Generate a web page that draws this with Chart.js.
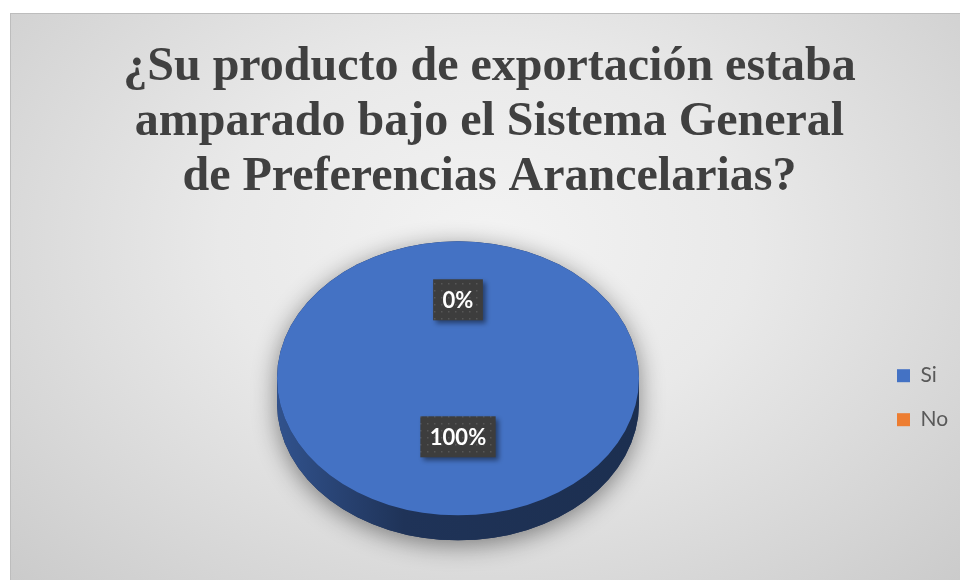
<!DOCTYPE html>
<html>
<head>
<meta charset="utf-8">
<script src="https://cdn.jsdelivr.net/npm/chart.js@4.4.1/dist/chart.umd.min.js"></script>
<style>
  html, body { margin:0; padding:0; background:#fff; }
  #frame {
    position:absolute; left:10px; top:13px; width:950px; height:567px;
    border-top:1px solid #bdbdbd; border-left:1px solid #bdbdbd;
    background: radial-gradient(ellipse 70% 85% at 50% 40%, #f3f3f3 0%, #e9e9e9 40%, #cbcbcb 100%);
  }
  canvas { display:block; }
</style>
</head>
<body>
<div id="frame"><canvas id="chart" width="950" height="567"></canvas></div>
<script>
/* ===== data ===== */
const TITLE_LINES = [
  "¿Su producto de exportación estaba",
  "amparado bajo el Sistema General",
  "de Preferencias Arancelarias?"
];
const CATEGORIES = ["Si", "No"];
const VALUES = [100, 0];
const COLORS = ["#4472c4", "#ed7d31"];

/* ===== 3d look ===== */
const TILT = 0.757;   // vertical squash of the top face
const DEPTH = 25;     // thickness of the pie

function shade(hex, f){
  const n = parseInt(hex.slice(1), 16);
  const r = Math.round(((n >> 16) & 255) * f), g = Math.round(((n >> 8) & 255) * f), b = Math.round((n & 255) * f);
  return `rgb(${r},${g},${b})`;
}

let dotPattern = null;
function labelPattern(ctx){
  if (dotPattern) return dotPattern;
  const c = document.createElement("canvas");
  c.width = 7; c.height = 7;
  const p = c.getContext("2d");
  p.fillStyle = "#3d3d3d"; p.fillRect(0, 0, 7, 7);
  p.fillStyle = "#575757"; p.fillRect(3, 3, 1.5, 1.5);
  dotPattern = ctx.createPattern(c, "repeat");
  return dotPattern;
}

const pie3d = {
  id: "pie3d",
  afterLayout(chart){
    // legend box is kept narrow for layout, but let its text draw past it
    const lg = chart.legend;
    if (lg) { lg.right = chart.width; lg.width = lg.right - lg.left; }
  },
  beforeDatasetsDraw(chart){
    const ctx = chart.ctx;
    const arcs = chart.getDatasetMeta(0).data;
    if (!arcs.length) return;
    const {x, y, outerRadius: r} = arcs[0].getProps(["x", "y", "outerRadius"], true);
    const ry = r * TILT;

    // soft shadow under the whole disc
    ctx.save();
    ctx.shadowColor = "rgba(0,0,0,0.45)";
    ctx.shadowBlur = 24;
    ctx.shadowOffsetY = 5;
    ctx.fillStyle = "#1c2f56";
    ctx.beginPath();
    ctx.ellipse(x, y + DEPTH, r, ry, 0, 0, Math.PI);
    ctx.ellipse(x, y, r, ry, 0, Math.PI, 2 * Math.PI);
    ctx.closePath();
    ctx.fill();
    ctx.restore();

    // side walls (front half only)
    arcs.forEach((arc, i) => {
      const {startAngle: a, endAngle: b} = arc.getProps(["startAngle", "endAngle"], true);
      if (b - a <= 0) return;
      const col = COLORS[i];
      const g = ctx.createLinearGradient(x - r, 0, x + r, 0);
      g.addColorStop(0, shade(col, 0.72));
      g.addColorStop(0.35, shade(col, 0.45));
      g.addColorStop(1, shade(col, 0.41));
      for (let k = -1; k <= 1; k++){
        const lo = Math.max(a, 2 * Math.PI * k), hi = Math.min(b, 2 * Math.PI * k + Math.PI);
        if (hi <= lo) continue;
        ctx.beginPath();
        ctx.ellipse(x, y, r, ry, 0, lo, hi);
        ctx.ellipse(x, y + DEPTH, r, ry, 0, hi, lo, true);
        ctx.closePath();
        ctx.fillStyle = g;
        ctx.fill();
      }
    });

    // squash the top face
    ctx.save();
    ctx.translate(x, y); ctx.scale(1, TILT); ctx.translate(-x, -y);
  },
  afterDatasetsDraw(chart){
    const ctx = chart.ctx;
    ctx.restore();
    const meta = chart.getDatasetMeta(0);
    const total = VALUES.reduce((s, v) => s + v, 0);
    ctx.save();
    ctx.font = "bold 22px Lato";
    ctx.textAlign = "center";
    ctx.textBaseline = "middle";
    meta.data.forEach((arc, i) => {
      const p = arc.getProps(["x", "y", "startAngle", "endAngle", "outerRadius"], true);
      const mid = (p.startAngle + p.endAngle) / 2;
      const lx = p.x + Math.cos(mid) * p.outerRadius * 0.5;
      const ly = p.y + Math.sin(mid) * p.outerRadius * 0.5 * TILT - 10;
      const txt = Math.round(VALUES[i] / total * 100) + "%";
      const w = ctx.measureText(txt).width + 19, h = 41;
      ctx.save();
      ctx.shadowColor = "rgba(0,0,0,0.45)";
      ctx.shadowBlur = 5;
      ctx.shadowOffsetX = 3;
      ctx.shadowOffsetY = 3;
      ctx.fillStyle = labelPattern(ctx);
      ctx.fillRect(lx - w / 2, ly - h / 2, w, h);
      ctx.restore();
      ctx.fillStyle = "#ffffff";
      ctx.fillText(txt, lx, ly + 1);
    });
    ctx.restore();
  }
};

new Chart(document.getElementById("chart"), {
  type: "pie",
  data: {
    labels: CATEGORIES,
    datasets: [{ data: VALUES, backgroundColor: COLORS, borderWidth: 0 }]
  },
  options: {
    responsive: false,
    animation: false,
    radius: 181,
    layout: { padding: { left: 31, right: 24, top: 0, bottom: 40 } },
    plugins: {
      title: {
        display: true,
        text: TITLE_LINES,
        color: "#404040",
        font: { family: "'Liberation Serif', 'Times New Roman', serif", size: 48, weight: "bold", lineHeight: 1.15 },
        padding: { top: 26, bottom: 10 }
      },
      legend: {
        position: "right",
        maxWidth: 63,
        title: { display: true, text: " ", padding: { top: 0, bottom: 202 }, font: { size: 32 } },
        labels: {
          boxWidth: 13, boxHeight: 13, padding: 23,
          color: "#595959",
          font: { family: "Lato, 'Open Sans', sans-serif", size: 21 }
        }
      },
      tooltip: { enabled: false }
    }
  },
  plugins: [pie3d]
});
</script>
</body>
</html>
